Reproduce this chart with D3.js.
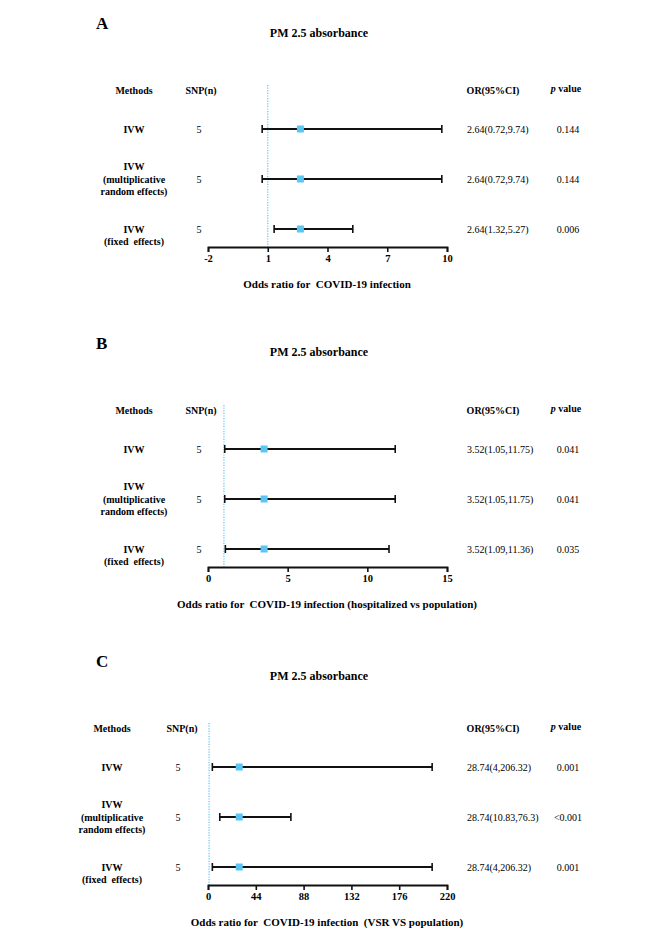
<!DOCTYPE html>
<html>
<head>
<meta charset="utf-8">
<script src="https://cdn.jsdelivr.net/npm/d3@7/dist/d3.min.js"></script>
<style>
html,body{margin:0;padding:0;background:#fff;}
svg{display:block;}
text{font-family:"Liberation Serif","Times New Roman",serif;fill:#000;}
</style>
</head>
<body>
<svg id="chart" width="666" height="941"></svg>
<script>
// ---- data ----
const methods = ["IVW", "IVW\n(multiplicative\nrandom effects)", "IVW\n(fixed  effects)"];
const snpN = [5, 5, 5];

const orA = [2.64, 2.64, 2.64];
const lowA = [0.72, 0.72, 1.32];
const highA = [9.74, 9.74, 5.27];
const pA = ["0.144", "0.144", "0.006"];
const ticksA = [-2, 1, 4, 7, 10];

const orB = [3.52, 3.52, 3.52];
const lowB = [1.05, 1.05, 1.09];
const highB = [11.75, 11.75, 11.36];
const pB = ["0.041", "0.041", "0.035"];
const ticksB = [0, 5, 10, 15];

const orC = [28.74, 28.74, 28.74];
const lowC = [4, 10.83, 4];
const highC = [206.32, 76.3, 206.32];
const pC = ["0.001", "<0.001", "0.001"];
const ticksC = [0, 44, 88, 132, 176, 220];

const panelLetters = ["A", "B", "C"];
const panelTitle = "PM 2.5 absorbance";
const axisTitles = [
  "Odds ratio for  COVID-19 infection",
  "Odds ratio for  COVID-19 infection (hospitalized vs population)",
  "Odds ratio for  COVID-19 infection  (VSR VS population)"
];

// ---- layout ----
const panels = [
  {or: orA, low: lowA, high: highA, p: pA, ticks: ticksA, off: 0, titleY: 37, mx: 134, sx: 201, nx: 199},
  {or: orB, low: lowB, high: highB, p: pB, ticks: ticksB, off: 320, titleY: 356, mx: 134, sx: 201, nx: 199},
  {or: orC, low: lowC, high: highC, p: pC, ticks: ticksC, off: 638, titleY: 680, mx: 112, sx: 182, nx: 178}
];
const blue = "#5cc6f2";
const svg = d3.select("#chart");

panels.forEach((P, pi) => {
  const g = svg.append("g").attr("transform", `translate(0,${P.off})`);
  const x = d3.scaleLinear().domain([P.ticks[0], P.ticks[P.ticks.length - 1]]).range([208, 447]);
  const rowY = d3.scalePoint().domain([0, 1, 2]).range([129, 229]);
  const axisY = 247;

  // panel letter
  g.append("text").attr("x", 96).attr("y", 29)
    .attr("font-size", 17).attr("font-weight", "bold").text(panelLetters[pi]);
  // title
  svg.append("text").attr("x", 319).attr("y", P.titleY).attr("text-anchor", "middle")
    .attr("font-size", 12).attr("font-weight", "bold").text(panelTitle);

  // headers
  const hy = 90;
  g.append("text").attr("x", P.mx).attr("y", hy).attr("dy", "0.35em").attr("text-anchor", "middle")
    .attr("font-size", 10).attr("font-weight", "bold").text("Methods");
  g.append("text").attr("x", P.sx).attr("y", hy).attr("dy", "0.35em").attr("text-anchor", "middle")
    .attr("font-size", 10).attr("font-weight", "bold").text("SNP(n)");
  g.append("text").attr("x", 493).attr("y", hy).attr("dy", "0.35em").attr("text-anchor", "middle")
    .attr("font-size", 10).attr("font-weight", "bold").text("OR(95%CI)");
  const pv = g.append("text").attr("x", 566).attr("y", hy - 2).attr("dy", "0.35em").attr("text-anchor", "middle")
    .attr("font-size", 10).attr("font-weight", "bold");
  pv.append("tspan").attr("font-style", "italic").text("p");
  pv.append("tspan").text(" value");

  // reference dotted line at OR = 1
  g.append("line").attr("x1", x(1)).attr("x2", x(1)).attr("y1", 85).attr("y2", axisY)
    .attr("stroke", blue).attr("stroke-width", 1.2).attr("stroke-dasharray", "1.2,1.4");

  // rows
  methods.forEach((m, i) => {
    const y = rowY(i);
    const lines = m.split("\n");
    const startY = y - Math.floor((lines.length - 1) / 2) * 12.5;
    const t = g.append("text").attr("text-anchor", "middle").attr("font-size", 10).attr("font-weight", "bold");
    lines.forEach((ln, k) => {
      t.append("tspan").attr("x", P.mx).attr("y", startY + k * 12.5).attr("dy", "0.35em")
        .style("white-space", "pre").text(ln);
    });
    g.append("text").attr("x", P.nx).attr("y", y).attr("dy", "0.35em").attr("text-anchor", "middle")
      .attr("font-size", 10).text(snpN[i]);

    // CI bar
    g.append("line").attr("x1", x(P.low[i])).attr("x2", x(P.high[i])).attr("y1", y).attr("y2", y)
      .attr("stroke", "#111").attr("stroke-width", 1.8);
    [P.low[i], P.high[i]].forEach(v => {
      g.append("line").attr("x1", x(v)).attr("x2", x(v)).attr("y1", y - 4).attr("y2", y + 4)
        .attr("stroke", "#111").attr("stroke-width", 1.6);
    });
    g.append("rect").attr("x", x(P.or[i]) - 3.5).attr("y", y - 3.5).attr("width", 7).attr("height", 7)
      .attr("fill", blue);

    g.append("text").attr("x", 467).attr("y", y).attr("dy", "0.35em").attr("font-size", 10)
      .text(`${P.or[i]}(${P.low[i]},${P.high[i]})`);
    g.append("text").attr("x", 568).attr("y", y).attr("dy", "0.35em").attr("text-anchor", "middle")
      .attr("font-size", 10).text(P.p[i]);
  });

  // axis
  const ax = g.append("g").attr("transform", `translate(0,${axisY})`)
    .call(d3.axisBottom(x).tickValues(P.ticks).tickSize(5).tickSizeOuter(5)
      .tickFormat(d => String(d)));
  ax.select(".domain").attr("stroke", "#111").attr("stroke-width", 1.8);
  ax.selectAll(".tick line").attr("stroke", "#111").attr("stroke-width", 1.6);
  ax.selectAll(".tick text").attr("font-family", "Liberation Serif, serif").attr("font-size", 10.5)
    .attr("font-weight", "bold").attr("fill", "#000").attr("y", 8);

  g.append("text").attr("x", 327).attr("y", 284).attr("dy", "0.35em").attr("text-anchor", "middle")
    .attr("font-size", 11).attr("font-weight", "bold").style("white-space", "pre").text(axisTitles[pi]);
});
</script>
</body>
</html>
